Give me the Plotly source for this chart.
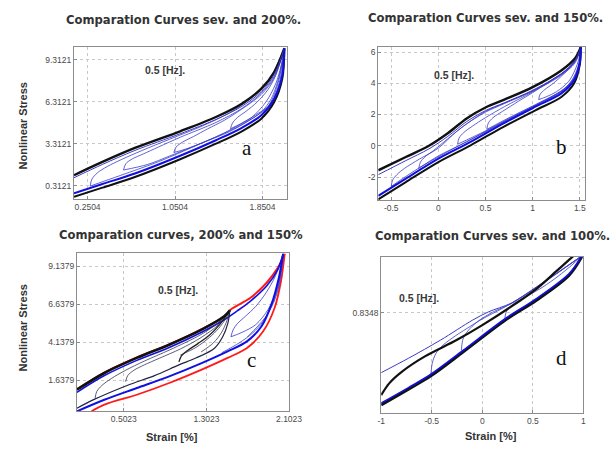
import plotly.graph_objects as go

W, H = 611, 449

# ---------------- Panel a : sev. and 200% ----------------
a_x_ticks = [0.2504, 1.0504, 1.8504]
a_x_labels = ["0.2504", "1.0504", "1.8504"]
a_y_ticks = [0.3121, 3.3121, 6.3121, 9.3121]
a_y_labels = ["0.3121", "3.3121", "6.3121", "9.3121"]
a_black_upper = [(0.126, 1.08), (0.386, 2.03), (0.683, 3.03), (1.097, 4.22), (1.424, 5.24), (1.661, 6.19), (1.839, 7.26), (1.957, 8.45), (2.05, 10.15)]
a_black_lower = [(0.126, -0.47), (0.386, 0.19), (0.683, 0.95), (1.097, 2.22), (1.424, 3.33), (1.661, 4.22), (1.839, 5.12), (1.957, 6.31), (2.031, 7.98), (2.05, 10.15)]
a_blue_upper = [(0.126, 0.9), (0.386, 1.85), (0.683, 2.85), (1.097, 4.04), (1.424, 5.06), (1.661, 6.0), (1.839, 7.06), (1.957, 8.27), (2.05, 10.15)]
a_blue_lower = [(0.126, -0.22), (0.386, 0.45), (0.683, 1.2), (1.097, 2.47), (1.424, 3.58), (1.661, 4.47), (1.839, 5.37), (1.957, 6.55), (2.03, 8.2), (2.05, 10.15)]
a_loop1_load = [(0.274, 0.3), (0.29, 0.8), (0.34, 1.25), (0.43, 1.7), (0.56, 2.2), (0.75, 2.85), (1.0, 3.65), (1.3, 4.6), (1.55, 5.55), (1.75, 6.6), (1.9, 7.75), (2.05, 10.15)]
a_loop1_unload = [(2.05, 10.15), (2.035, 9.1), (2.01, 7.9), (1.97, 6.9), (1.92, 6.1), (1.8, 5.45), (1.5, 4.1), (1.2, 3.05), (0.9, 2.05), (0.6, 1.2), (0.4, 0.65), (0.274, 0.3)]
a_loop2_load = [(0.579, 1.45), (0.6, 1.9), (0.66, 2.25), (0.76, 2.6), (0.9, 3.1), (1.1, 3.8), (1.424, 4.85), (1.661, 5.85), (1.839, 6.95), (1.957, 8.15), (2.05, 10.15)]
a_loop2_unload = [(2.05, 10.15), (2.03, 9.1), (2.0, 7.9), (1.95, 6.7), (1.89, 5.9), (1.8, 5.35), (1.6, 4.45), (1.3, 3.4), (1.0, 2.45), (0.8, 1.85), (0.579, 1.45)]
a_loop3_load = [(1.039, 2.7), (1.06, 3.1), (1.12, 3.45), (1.22, 3.85), (1.35, 4.4), (1.5, 5.0), (1.66, 5.8), (1.839, 6.85), (1.957, 8.05), (2.05, 10.15)]
a_loop3_unload = [(2.05, 10.15), (2.025, 9.0), (1.99, 7.8), (1.93, 6.55), (1.84, 5.6), (1.72, 4.95), (1.55, 4.2), (1.3, 3.4), (1.15, 2.95), (1.039, 2.7)]
a_loop4_load = [(1.557, 4.4), (1.575, 4.8), (1.62, 5.2), (1.7, 5.65), (1.8, 6.3), (1.9, 7.2), (1.97, 8.2), (2.05, 10.15)]
a_loop4_unload = [(2.05, 10.15), (2.02, 8.9), (1.97, 7.6), (1.88, 6.3), (1.75, 5.2), (1.65, 4.75), (1.557, 4.4)]

# ---------------- Panel b : sev. and 150% ----------------
b_x_ticks = [-0.5, 0, 0.5, 1, 1.5]
b_x_labels = ["-0.5", "0", "0.5", "1", "1.5"]
b_y_ticks = [-2, 0, 2, 4, 6]
b_y_labels = ["-2", "0", "2", "4", "6"]
b_black_upper = [(-0.637, -1.57), (-0.345, -0.72), (-0.1, 0.0), (0.1, 0.8), (0.3, 1.75), (0.5, 2.45), (0.7, 2.95), (1.0, 3.75), (1.3, 4.8), (1.45, 5.6), (1.51, 6.3)]
b_black_lower = [(-0.637, -3.43), (-0.345, -2.32), (0.0, -1.04), (0.342, 0.03), (0.686, 1.2), (1.029, 2.27), (1.304, 3.12), (1.44, 4.0), (1.5, 5.2), (1.51, 6.3)]
b_blue_upper = [(-0.637, -1.85), (-0.345, -0.95), (-0.1, -0.2), (0.1, 0.6), (0.3, 1.55), (0.5, 2.25), (0.7, 2.75), (1.0, 3.55), (1.3, 4.6), (1.45, 5.45), (1.51, 6.3)]
b_blue_lower = [(-0.637, -3.2), (-0.345, -2.1), (0.0, -0.82), (0.342, 0.25), (0.686, 1.42), (1.029, 2.5), (1.304, 3.35), (1.44, 4.2), (1.5, 5.3), (1.51, 6.3)]
b_loop1_load = [(-0.5, -2.6), (-0.485, -2.2), (-0.44, -1.85), (-0.36, -1.45), (-0.2, -0.85), (0.0, -0.15), (0.2, 0.95), (0.5, 2.2), (0.7, 2.73), (1.0, 3.52), (1.3, 4.58), (1.45, 5.42), (1.51, 6.3)]
b_loop1_unload = [(1.51, 6.3), (1.508, 5.6), (1.495, 5.2), (1.45, 4.4), (1.33, 3.58), (1.0, 2.45), (0.6, 1.2), (0.2, -0.05), (-0.2, -1.4), (-0.5, -2.6)]
b_loop2_load = [(-0.208, -1.45), (-0.19, -1.05), (-0.14, -0.7), (-0.05, -0.3), (0.1, 0.45), (0.3, 1.4), (0.5, 2.15), (0.7, 2.7), (1.0, 3.5), (1.3, 4.55), (1.45, 5.38), (1.51, 6.3)]
b_loop2_unload = [(1.51, 6.3), (1.506, 5.55), (1.49, 5.15), (1.44, 4.3), (1.33, 3.6), (1.0, 2.5), (0.6, 1.25), (0.3, 0.25), (0.0, -0.65), (-0.208, -1.45)]
b_loop3_load = [(0.204, 0.1), (0.22, 0.5), (0.27, 0.85), (0.36, 1.25), (0.5, 1.8), (0.7, 2.5), (1.0, 3.45), (1.3, 4.5), (1.45, 5.3), (1.51, 6.3)]
b_loop3_unload = [(1.51, 6.3), (1.503, 5.5), (1.48, 4.95), (1.43, 4.3), (1.33, 3.62), (1.1, 2.8), (0.8, 1.9), (0.5, 0.95), (0.204, 0.1)]
b_loop4_load = [(0.514, 1.05), (0.53, 1.45), (0.58, 1.8), (0.68, 2.2), (0.85, 2.85), (1.0, 3.4), (1.2, 4.2), (1.4, 5.05), (1.51, 6.3)]
b_loop4_unload = [(1.51, 6.3), (1.495, 5.45), (1.46, 4.7), (1.4, 4.05), (1.3, 3.5), (1.1, 2.85), (0.8, 1.95), (0.514, 1.05)]
b_loop5_load = [(1.064, 2.95), (1.08, 3.3), (1.13, 3.6), (1.22, 4.0), (1.33, 4.6), (1.43, 5.25), (1.51, 6.3)]
b_loop5_unload = [(1.51, 6.3), (1.49, 5.55), (1.45, 4.85), (1.38, 4.1), (1.25, 3.45), (1.15, 3.15), (1.064, 2.95)]

# ---------------- Panel c : 200% and 150% ----------------
c_x_ticks = [0.5023, 1.3023, 2.1023]
c_x_labels = ["0.5023", "1.3023", "2.1023"]
c_y_ticks = [1.6379, 4.1379, 6.6379, 9.1379]
c_y_labels = ["1.6379", "4.1379", "6.6379", "9.1379"]
c_red_upper = [(0.048, 1.05), (0.314, 2.15), (0.628, 3.15), (0.942, 4.0), (1.256, 5.0), (1.475, 5.85), (1.538, 6.3), (1.726, 7.05), (1.883, 8.04), (1.993, 9.03), (2.06, 9.95)]
c_red_lower = [(0.189, -0.4), (0.314, 0.04), (0.628, 0.69), (0.942, 1.46), (1.256, 2.34), (1.507, 3.11), (1.695, 3.76), (1.852, 4.86), (1.962, 6.39), (2.024, 8.15), (2.06, 9.95)]
c_blue_upper = [(0.048, 0.85), (0.314, 1.95), (0.628, 2.95), (0.942, 3.8), (1.256, 4.8), (1.475, 5.62), (1.6, 6.2), (1.726, 6.83), (1.883, 7.82), (1.993, 8.92), (2.045, 9.95)]
c_blue_lower = [(0.048, -0.4), (0.314, 0.36), (0.628, 1.13), (0.942, 1.9), (1.256, 2.77), (1.507, 3.54), (1.695, 4.2), (1.836, 5.19), (1.931, 6.61), (2.003, 8.37), (2.045, 9.95)]
c_black_upper = [(0.048, 1.02), (0.314, 2.12), (0.628, 3.11), (0.942, 3.98), (1.256, 4.97), (1.475, 5.85), (1.53, 6.25)]
c_black_lower = [(0.048, -0.2), (0.205, 0.35), (0.534, 1.3), (0.8, 1.95), (1.036, 2.65), (1.2, 3.1), (1.38, 3.75), (1.46, 4.5), (1.51, 5.4), (1.53, 6.25)]
c_kloop1_load = [(0.224, 0.45), (0.24, 0.9), (0.29, 1.3), (0.38, 1.75), (0.52, 2.3), (0.7, 2.9), (0.95, 3.65), (1.25, 4.65), (1.42, 5.45), (1.53, 6.25)]
c_kloop2_load = [(0.52, 1.55), (0.54, 1.95), (0.6, 2.3), (0.7, 2.65), (0.85, 3.1), (1.05, 3.7), (1.25, 4.45), (1.42, 5.3), (1.53, 6.25)]
c_kloop3_load = [(1.036, 2.85), (1.06, 3.25), (1.12, 3.6), (1.22, 4.05), (1.33, 4.6), (1.43, 5.3), (1.53, 6.25)]
c_kfan1 = [(1.53, 6.25), (1.49, 5.7), (1.42, 5.05), (1.33, 4.45), (1.2, 3.8), (1.05, 3.3)]
c_kfan2 = [(1.53, 6.25), (1.5, 5.55), (1.45, 4.8), (1.37, 4.1), (1.25, 3.5)]
c_bloop_load = [(1.54, 4.5), (1.56, 4.95), (1.6, 5.35), (1.68, 5.85), (1.78, 6.5), (1.88, 7.4), (1.97, 8.5), (2.045, 9.95)]
c_bloop_unload = [(2.045, 9.95), (2.02, 8.7), (1.98, 7.5), (1.9, 6.3), (1.78, 5.3), (1.65, 4.8), (1.54, 4.5)]
c_bfan2 = [(2.045, 9.95), (2.025, 8.8), (1.99, 7.6), (1.93, 6.5), (1.85, 5.5), (1.75, 4.75), (1.62, 4.1), (1.45, 3.45)]
c_bfan3 = [(2.045, 9.95), (2.03, 8.9), (2.0, 7.7), (1.95, 6.7), (1.88, 5.85), (1.8, 5.2), (1.7, 4.5)]

# ---------------- Panel d : sev. and 100% ----------------
d_x_ticks = [-1, -0.5, 0, 0.5, 1]
d_x_labels = ["-1", "-0.5", "0", "0.5", "1"]
d_y_ticks = [0.8348]
d_y_labels = ["0.8348"]
d_black_upper = [(-1.0, -2.25), (-0.921, -1.81), (-0.794, -1.37), (-0.572, -0.81), (-0.254, -0.19), (0.0, 0.37), (0.285, 1.06), (0.539, 1.74), (0.73, 2.38), (0.86, 2.82), (0.95, 3.12)]
d_blue_upper = [(-1.0, -1.41), (-0.73, -0.87), (-0.413, -0.19), (-0.095, 0.56), (0.063, 0.87), (0.285, 1.19), (0.539, 1.81), (0.793, 2.46), (0.984, 2.96)]
d_black_lower = [(-1.0, -2.62), (-0.73, -2.03), (-0.508, -1.53), (-0.191, -0.64), (0.222, 0.54), (0.539, 1.31), (0.857, 2.23), (0.984, 2.93)]
d_blue_lower = [(-1.0, -2.55), (-0.73, -1.97), (-0.508, -1.47), (-0.191, -0.58), (0.222, 0.6), (0.539, 1.37), (0.857, 2.29), (0.984, 2.95)]
d_loop1_load = [(-0.508, -1.47), (-0.495, -1.05), (-0.46, -0.7), (-0.4, -0.42), (-0.3, -0.12), (-0.15, 0.25), (0.0, 0.6), (0.2, 1.0), (0.4, 1.45), (0.6, 1.95), (0.8, 2.48), (0.984, 2.96)]
d_loop2_load = [(-0.207, -0.58), (-0.195, -0.2), (-0.175, -0.02), (-0.12, 0.25), (-0.03, 0.55), (0.1, 0.85), (0.3, 1.2), (0.5, 1.68), (0.7, 2.2), (0.85, 2.6), (0.984, 2.96)]
d_loop3_load = [(0.222, 0.58), (0.235, 0.85), (0.27, 1.05), (0.33, 1.22), (0.444, 1.46), (0.6, 1.8), (0.75, 2.2), (0.88, 2.6), (0.984, 2.96)]

# ---------------- figure ----------------
BLACK = "#111111"
BLUE = "#1010e0"
THIN = "#3a3ac8"
RED = "#ff1a1a"

fig = go.Figure()


def add(points, ax, color, width, smooth=0.9):
    fig.add_trace(go.Scatter(
        x=[p[0] for p in points], y=[p[1] for p in points], mode="lines",
        line=dict(color=color, width=width, shape="spline", smoothing=smooth),
        xaxis="x" + ax, yaxis="y" + ax, hoverinfo="skip", showlegend=False))


# panel a
for loop in [a_loop1_load, a_loop1_unload, a_loop2_load, a_loop2_unload,
             a_loop3_load, a_loop3_unload, a_loop4_load, a_loop4_unload]:
    add(loop, "", THIN, 0.8)
add(a_black_upper, "", BLACK, 2.4)
add(a_black_lower, "", BLACK, 2.0)
add(a_blue_upper, "", THIN, 1.0)
add(a_blue_lower, "", BLUE, 2.0)

# panel b
for loop in [b_loop1_load, b_loop1_unload, b_loop2_load, b_loop2_unload, b_loop3_load,
             b_loop3_unload, b_loop4_load, b_loop4_unload, b_loop5_load, b_loop5_unload]:
    add(loop, "2", THIN, 0.8)
add(b_black_upper, "2", BLACK, 2.4)
add(b_black_lower, "2", BLACK, 2.0)
add(b_blue_upper, "2", THIN, 1.0)
add(b_blue_lower, "2", BLUE, 2.0)

# panel c
add(c_red_upper, "3", RED, 2.0)
add(c_red_lower, "3", RED, 1.8)
for loop in [c_bloop_load, c_bloop_unload, c_bfan2, c_bfan3]:
    add(loop, "3", THIN, 0.8)
add(c_blue_upper, "3", BLUE, 1.6)
add(c_blue_lower, "3", BLUE, 2.0)
for loop in [c_kloop1_load, c_kloop2_load, c_kfan1, c_kfan2]:
    add(loop, "3", "#333355", 0.8)
add(c_kloop3_load, "3", "#222222", 1.3)
add(c_black_upper, "3", BLACK, 2.6)
add(c_black_lower, "3", "#222244", 1.2)

# panel d
for loop in [d_loop1_load, d_loop2_load, d_loop3_load]:
    add(loop, "4", THIN, 0.8)
add(d_blue_upper, "4", THIN, 1.0)
add(d_black_upper, "4", BLACK, 2.2)
add(d_black_lower, "4", BLACK, 2.8)
add(d_blue_lower, "4", BLUE, 1.6)


def dom_x(p0, p1):
    return [p0 / W, p1 / W]


def dom_y(p0, p1):
    return [1 - p1 / H, 1 - p0 / H]


tick_font = dict(family="Liberation Sans, Arial", size=8.5, color="#4a4a4a")
axis_common = dict(showline=True, mirror=True, linecolor="#8c8c8c", linewidth=1,
                   showgrid=True, gridcolor="#c8c8c8", griddash="dot", gridwidth=1,
                   zeroline=False, ticks="inside", ticklen=3, tickcolor="#8c8c8c",
                   tickfont=tick_font, fixedrange=True)

panels = [
    ("", dom_x(72, 291), dom_y(47, 199), [0.126, 2.073], [-0.62, 10.24], a_x_ticks, a_x_labels, a_y_ticks, a_y_labels),
    ("2", dom_x(385, 598), dom_y(47, 200), [-0.637, 1.559], [-3.47, 6.32], b_x_ticks, b_x_labels, b_y_ticks, b_y_labels),
    ("3", dom_x(75, 293.5), dom_y(253, 411), [0.048, 2.105], [-0.38, 10.01], c_x_ticks, c_x_labels, c_y_ticks, c_y_labels),
    ("4", dom_x(388, 596), dom_y(257, 413), [-1.0, 1.0], [-2.92, 2.92], d_x_ticks, d_x_labels, d_y_ticks, d_y_labels),
]
layout_axes = {}
for ax, dx, dy, xr, yr, xt, xl, yt, yl in panels:
    layout_axes["xaxis" + ax] = dict(axis_common, domain=dx, range=xr, anchor="y" + ax,
                                     tickvals=xt, ticktext=xl)
    layout_axes["yaxis" + ax] = dict(axis_common, domain=dy, range=yr, anchor="x" + ax,
                                     tickvals=yt, ticktext=yl)

fig.update_layout(width=W, height=H, margin=dict(l=0, r=0, t=0, b=0),
                  paper_bgcolor="white", plot_bgcolor="white", **layout_axes)


def note(text, px, py, size, bold=False, family="Liberation Sans, Arial", color="#333333",
         angle=0, xanchor="center"):
    fig.add_annotation(x=px / W, y=1 - py / H, xref="paper", yref="paper", text=text,
                       showarrow=False, textangle=angle, xanchor=xanchor, yanchor="middle",
                       font=dict(family=family, size=size, color=color))


title_family = "DejaVu Sans, Verdana"
note("<b>Comparation Curves sev. and 200%.</b>", 185, 20, 11.6, family=title_family)
note("<b>Comparation Curves sev. and 150%.</b>", 372, 18, 11.6, family=title_family, xanchor="left")
note("<b>Comparation curves, 200% and 150%</b>", 182, 235, 11.6, family=title_family)
note("<b>Comparation Curves sev. and 100%.</b>", 380, 236, 11.6, family=title_family, xanchor="left")

note("<b>Nonlinear Stress</b>", 20, 126, 11, angle=-90)
note("<b>Nonlinear Stress</b>", 20, 328, 11, angle=-90)
note("<b>Strain [%]</b>", 173, 437, 11)
note("<b>Strain [%]</b>", 501, 436, 11)

for px, py in [(166, 70), (463, 75), (179, 290), (427, 298)]:
    note("<b>0.5 [Hz].</b>", px, py, 10.5, color="#3a3a3a")

serif = "Liberation Serif, Times New Roman"
note("a", 250, 148, 21, family=serif, color="#111111")
note("b", 573, 147, 21, family=serif, color="#111111")
note("c", 255, 360, 21, family=serif, color="#111111")
note("d", 573, 358, 21, family=serif, color="#111111")

fig.write_html("out.html", config={"displayModeBar": False},
               post_script="document.body.style.margin='0';document.body.style.padding='0';")
